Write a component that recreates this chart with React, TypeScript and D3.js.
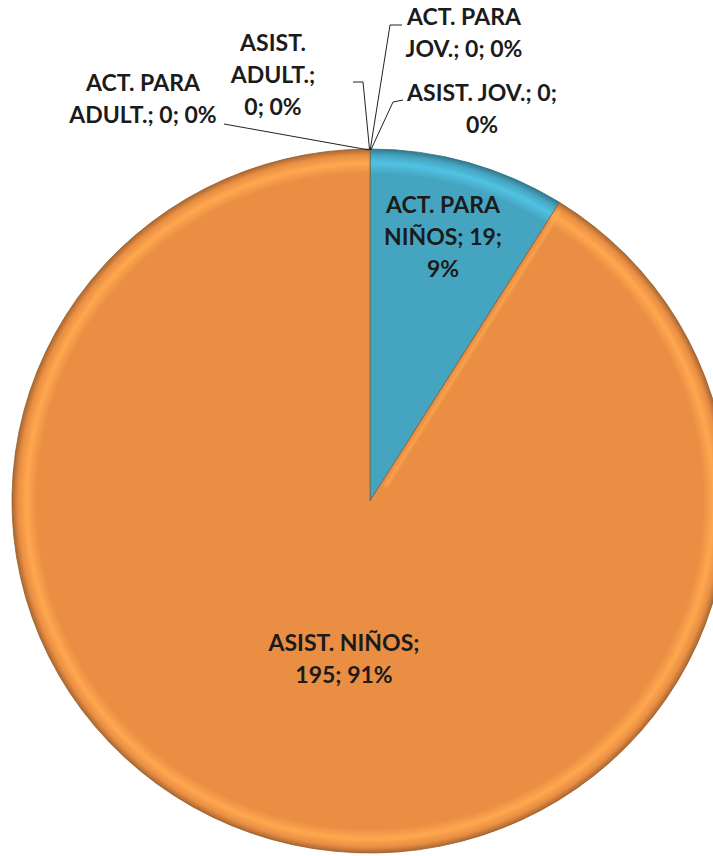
import React from "react";
import * as d3 from "d3";

const categories = [
  "ACT. PARA NIÑOS",
  "ASIST. NIÑOS",
  "ACT. PARA ADULT.",
  "ASIST. ADULT.",
  "ACT. PARA JOV.",
  "ASIST. JOV.",
];
const values = [19, 195, 0, 0, 0, 0];
const percents = ["9%", "91%", "0%", "0%", "0%", "0%"];
const colors = ["#45A5C1", "#E98E43", "#E98E43", "#E98E43", "#E98E43", "#E98E43"];

// label lines (text split as in the reference)
const labelLines: string[][] = [
  ["ACT. PARA", "NIÑOS; 19;", "9%"],
  ["ASIST. NIÑOS;", "195; 91%"],
  ["ACT. PARA", "ADULT.; 0; 0%"],
  ["ASIST.", "ADULT.;", "0; 0%"],
  ["ACT. PARA", "JOV.; 0; 0%"],
  ["ASIST. JOV.; 0;", "0%"],
];
// label anchor [centerX, firstBaseline]
const labelPos: [number, number][] = [
  [443, 213],
  [344, 651],
  [143, 91],
  [273, 51],
  [464, 25],
  [482, 101],
];
// leader lines for zero slices (outer end points)
const leaders: ([number, number][] | null)[] = [
  null,
  null,
  [[224, 124]],
  [[353, 82], [363, 82]],
  [[402, 25], [390, 25]],
  [[403, 100], [393, 102]],
];

const W = 713;
const H = 856;
const cx = 370;
const cy = 501;
const R = 352;
const sx = 358 / 352;
const lineH = 32;

function lighten(c: string, k: number) {
  return d3.color(c)!.brighter(k).formatHex();
}
function darken(c: string, k: number) {
  return d3.color(c)!.darker(k).formatHex();
}

export default function App() {
  const pie = d3.pie<number>().sort(null).value((d) => d)(values);
  const arc = d3.arc<d3.PieArcDatum<number>>().innerRadius(0).outerRadius(R);
  const uniq = Array.from(new Set(colors));

  return (
    <div style={{ position: "absolute", left: 0, top: 0, width: W, height: H, background: "#fff" }}>
      <svg width={W} height={H} style={{ display: "block" }}>
        <defs>
          {uniq.map((c, i) => (
            <radialGradient key={c} id={`g${i}`} gradientUnits="userSpaceOnUse" cx={0} cy={0} r={R}>
              <stop offset="0%" stopColor={c} />
              <stop offset="93%" stopColor={c} />
              <stop offset="96%" stopColor={lighten(c, 0.45)} />
              <stop offset="98.3%" stopColor={c} />
              <stop offset="100%" stopColor={darken(c, 0.9)} />
            </radialGradient>
          ))}
          <filter id="blur2" x="-20%" y="-20%" width="140%" height="140%">
            <feGaussianBlur stdDeviation="1.6" />
          </filter>
        </defs>
        <g transform={`translate(${cx},${cy}) scale(${sx},1)`}>
          {pie.map((p, i) =>
            p.value > 0 ? (
              <path
                key={i}
                d={arc(p) || ""}
                fill={`url(#g${uniq.indexOf(colors[i])})`}
                stroke={darken(colors[i], 1.2)}
                strokeWidth={0.8}
              />
            ) : null
          )}
          {/* bevel highlights along slice edges */}
          {pie
            .filter((p) => p.value > 0)
            .map((p, i) => {
              const a = p.endAngle;
              const off = 5;
              const ux = Math.sin(a);
              const uy = -Math.cos(a);
              const nx = Math.cos(a) * off;
              const ny = Math.sin(a) * off;
              return (
                <line
                  key={"h" + i}
                  x1={nx + ux * 20}
                  y1={ny + uy * 20}
                  x2={nx + ux * (R - 8)}
                  y2={ny + uy * (R - 8)}
                  stroke={lighten(colors[(i + 1) % 2], 0.5)}
                  strokeWidth={3}
                  filter="url(#blur2)"
                  opacity={0.9}
                />
              );
            })}
          <line x1={-4} y1={-R + 6} x2={-4} y2={-10} stroke={darken(colors[0], 1.5)} strokeWidth={2} opacity={0.35} filter="url(#blur2)" />
        </g>
        {leaders.map((pts, i) =>
          pts ? (
            <polyline
              key={"l" + i}
              points={[...pts, [cx - 1 + (i - 2) * 0.6, cy - R + 1]].map((q) => q.join(",")).join(" ")}
              fill="none"
              stroke="#222"
              strokeWidth={1}
            />
          ) : null
        )}
        {labelLines.map((lines, i) => (
          <text
            key={"t" + i}
            x={labelPos[i][0]}
            y={labelPos[i][1]}
            textAnchor="middle"
            fontFamily="Lato, 'Open Sans', sans-serif"
            fontWeight={700}
            fontSize={23}
            fill="#1b1b1b"
          >
            {lines.map((s, j) => (
              <tspan key={j} x={labelPos[i][0]} dy={j === 0 ? 0 : lineH}>
                {s}
              </tspan>
            ))}
          </text>
        ))}
      </svg>
    </div>
  );
}
